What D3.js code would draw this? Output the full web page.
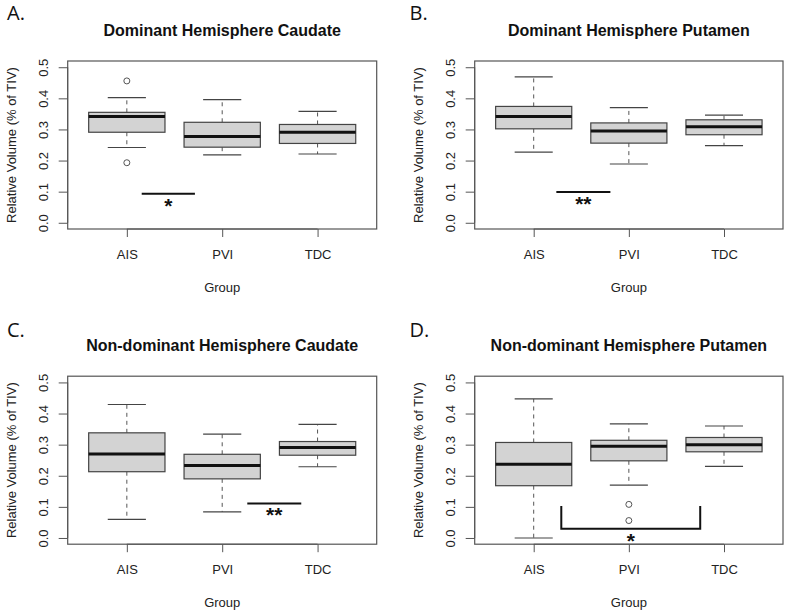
<!DOCTYPE html>
<html>
<head>
<meta charset="utf-8">
<script src="https://cdn.jsdelivr.net/npm/d3@7"></script>
<style>
  html, body { margin: 0; padding: 0; background: #fff; }
  svg { display: block; }
  text { font-family: "Liberation Sans", Arial, sans-serif; fill: #222; }
</style>
</head>
<body>
<svg id="chart" width="787" height="613"></svg>
<script>
// ---------------- DATA ----------------
const groups = ["AIS", "PVI", "TDC"];
const yTicks = [0.0, 0.1, 0.2, 0.3, 0.4, 0.5];
const panelLetters = ["A.", "B.", "C.", "D."];
const panelTitles = [
  "Dominant Hemisphere Caudate",
  "Dominant Hemisphere Putamen",
  "Non-dominant Hemisphere Caudate",
  "Non-dominant Hemisphere Putamen"
];
const xLabel = "Group";
const yLabel = "Relative Volume (% of TIV)";

// five-number box stats per group: [lower whisker, Q1, median, Q3, upper whisker]
const domCaudateStats = [
  [0.242, 0.291, 0.342, 0.355, 0.402],
  [0.218, 0.243, 0.277, 0.323, 0.396],
  [0.221, 0.255, 0.291, 0.316, 0.358]
];
const domCaudateOutliers = [[0.456, 0.193], [], []];

const domPutamenStats = [
  [0.227, 0.302, 0.342, 0.374, 0.469],
  [0.189, 0.256, 0.295, 0.321, 0.370],
  [0.248, 0.283, 0.309, 0.331, 0.346]
];
const domPutamenOutliers = [[], [], []];

const nonDomCaudateStats = [
  [0.060, 0.213, 0.270, 0.338, 0.429],
  [0.084, 0.190, 0.233, 0.269, 0.334],
  [0.229, 0.266, 0.291, 0.310, 0.365]
];
const nonDomCaudateOutliers = [[], [], []];

const nonDomPutamenStats = [
  [0.000, 0.168, 0.237, 0.307, 0.447],
  [0.170, 0.248, 0.295, 0.314, 0.367],
  [0.230, 0.277, 0.300, 0.323, 0.360]
];
const nonDomPutamenOutliers = [[], [0.108, 0.056], []];

// significance annotations: [x start, x end (group units), y of line, y of bracket ends or null, label]
const domCaudateSig = [1.156, 1.714, 0.093, null, "*"];
const domPutamenSig = [1.238, 1.806, 0.099, null, "**"];
const nonDomCaudateSig = [2.263, 2.829, 0.111, null, "**"];
const nonDomPutamenSig = [1.29, 2.75, 0.030, 0.103, "*"];

// ---------------- LAYOUT ----------------
const panels = [
  { stats: domCaudateStats, out: domCaudateOutliers, sig: domCaudateSig, col: 0, row: 0 },
  { stats: domPutamenStats, out: domPutamenOutliers, sig: domPutamenSig, col: 1, row: 0 },
  { stats: nonDomCaudateStats, out: nonDomCaudateOutliers, sig: nonDomCaudateSig, col: 0, row: 1 },
  { stats: nonDomPutamenStats, out: nonDomPutamenOutliers, sig: nonDomPutamenSig, col: 1, row: 1 }
];
const colLeft = [67.7, 474.7], colRight = [376.7, 783];
const rowTop = [61, 376.2], rowBottom = [229, 544.2];
const letterY = [12.7, 330];
const letterX = [7, 409.5];

const svg = d3.select("#chart");

panels.forEach((p, i) => {
  const L = colLeft[p.col], R = colRight[p.col], T = rowTop[p.row], B = rowBottom[p.row];
  const x = d3.scaleLinear().domain([0.38, 3.62]).range([L, R]);
  const y = d3.scaleLinear().domain([-0.02, 0.52]).range([B, T]);
  const g = svg.append("g");
  const unit = x(2) - x(1);
  const bw = unit * 0.8;

  // panel letter
  svg.append("text").attr("x", letterX[p.col]).attr("y", letterY[p.row]).attr("dy", "0.35em")
    .style("font-family", "'Open Sans', 'DejaVu Sans', sans-serif").style("font-size", "20px")
    .style("fill", "#111").text(panelLetters[i]);

  // title
  g.append("text").attr("x", (L + R) / 2).attr("y", T - 31).attr("dy", "0.35em")
    .attr("text-anchor", "middle").style("font-weight", "bold").style("font-size", "16px")
    .style("fill", "#111").text(panelTitles[i]);

  // boxes
  p.stats.forEach((s, k) => {
    const cx = x(k + 1);
    const [lo, q1, med, q3, hi] = s;
    // whiskers (dashed)
    g.append("line").attr("x1", cx).attr("x2", cx).attr("y1", y(q3)).attr("y2", y(hi))
      .attr("stroke", "#555").attr("stroke-width", 1).attr("stroke-dasharray", "4,4");
    g.append("line").attr("x1", cx).attr("x2", cx).attr("y1", y(q1)).attr("y2", y(lo))
      .attr("stroke", "#555").attr("stroke-width", 1).attr("stroke-dasharray", "4,4");
    // staples
    [lo, hi].forEach(v => {
      g.append("line").attr("x1", cx - bw / 4).attr("x2", cx + bw / 4).attr("y1", y(v)).attr("y2", y(v))
        .attr("stroke", "#444").attr("stroke-width", 1.2);
    });
    // box
    g.append("rect").attr("x", cx - bw / 2).attr("width", bw).attr("y", y(q3)).attr("height", y(q1) - y(q3))
      .attr("fill", "#d3d3d3").attr("stroke", "#444").attr("stroke-width", 1.2);
    // median
    g.append("line").attr("x1", cx - bw / 2).attr("x2", cx + bw / 2).attr("y1", y(med)).attr("y2", y(med))
      .attr("stroke", "#111").attr("stroke-width", 3);
    // outliers
    p.out[k].forEach(v => {
      g.append("circle").attr("cx", cx).attr("cy", y(v)).attr("r", 3)
        .attr("fill", "none").attr("stroke", "#555").attr("stroke-width", 1);
    });
  });

  // frame
  g.append("rect").attr("x", L).attr("y", T).attr("width", R - L).attr("height", B - T)
    .attr("fill", "none").attr("stroke", "#555").attr("stroke-width", 1.2);

  // y axis
  const ya = g.append("g").attr("transform", `translate(${L},0)`)
    .call(d3.axisLeft(y).tickValues(yTicks).tickSize(9).tickFormat(d3.format(".1f")).tickSizeOuter(0));
  ya.select(".domain").attr("d", `M0,${y(0)}V${y(0.5)}`).attr("stroke", "#555");
  ya.selectAll(".tick line").attr("stroke", "#555");
  ya.selectAll(".tick text").attr("x", null).attr("dy", null)
    .attr("transform", "translate(-24.4,0) rotate(-90)").attr("text-anchor", "middle")
    .attr("dy", "0.35em").style("font-size", "13px").style("font-family", "'Liberation Sans', Arial, sans-serif")
    .style("fill", "#222");

  // x axis
  const xa = g.append("g").attr("transform", `translate(0,${B})`)
    .call(d3.axisBottom(x).tickValues([1, 2, 3]).tickSize(8).tickFormat((d) => groups[d - 1]).tickSizeOuter(0));
  xa.select(".domain").attr("d", `M${x(1)},0H${x(3)}`).attr("stroke", "#555");
  xa.selectAll(".tick line").attr("stroke", "#555");
  xa.selectAll(".tick text").attr("y", 25).attr("dy", "0.35em").style("font-size", "13px")
    .style("font-family", "'Liberation Sans', Arial, sans-serif").style("fill", "#222");

  // axis titles
  g.append("text").attr("x", (L + R) / 2).attr("y", B + 58).attr("dy", "0.35em")
    .attr("text-anchor", "middle").style("font-size", "13px").text(xLabel);
  g.append("text").attr("transform", `translate(${L - 56},${(T + B) / 2}) rotate(-90)`)
    .attr("dy", "0.35em").attr("text-anchor", "middle").style("font-size", "13px").text(yLabel);

  // significance annotation
  const [sx0, sx1, sy, sTop, lab] = p.sig;
  let d = `M${x(sx0)},${y(sy)}H${x(sx1)}`;
  if (sTop !== null) d = `M${x(sx0)},${y(sTop)}V${y(sy)}H${x(sx1)}V${y(sTop)}`;
  g.append("path").attr("d", d).attr("fill", "none").attr("stroke", "#111").attr("stroke-width", 2);
  g.append("text").attr("x", x((sx0 + sx1) / 2)).attr("y", y(sy) + 19)
    .attr("text-anchor", "middle").style("font-size", "21px").style("font-weight", "bold")
    .style("fill", "#111").text(lab);
});
</script>
</body>
</html>
